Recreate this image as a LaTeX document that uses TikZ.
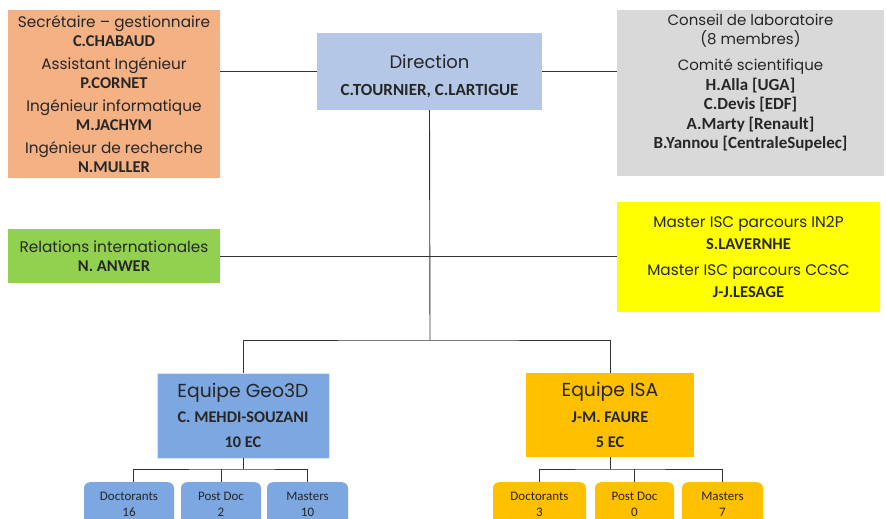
\documentclass[tikz,border=0pt]{standalone}
\usepackage{fontspec}
\setmainfont{Carlito}
\newfontfamily\rgf{Poppins}
\usetikzlibrary{calc}
\definecolor{cSec}{HTML}{F4B183}
\definecolor{cDir}{HTML}{B4C7E7}
\definecolor{cCons}{HTML}{D9D9D9}
\definecolor{cRel}{HTML}{92D050}
\definecolor{cMas}{HTML}{FFFF00}
\definecolor{cGeo}{HTML}{7DA7E0}
\definecolor{cIsa}{HTML}{FFC000}
\definecolor{cTxt}{HTML}{262626}
\newcommand\rg[2]{{\rgf\fontsize{#1}{#1}\selectfont #2}}
\newcommand\bd[2]{{\bfseries\fontsize{#1}{#1}\selectfont #2}}
\begin{document}
\begin{tikzpicture}[x=1pt,y=-1pt,
  boxstyle/.style={rectangle, inner sep=0pt, align=center, text=cTxt},
  smallbox/.style={rectangle, rounded corners=6pt, inner sep=0pt, anchor=north, minimum height=60pt},
  smalltext/.style={align=center, inner sep=0pt, text=cTxt, font=\fontsize{13}{16}\selectfont},
  conn/.style={draw=black!80, line width=0.9pt}]
\useasboundingbox (0,0) rectangle (886,519);
\clip (0,0) rectangle (886,519);

% top row
\node[boxstyle, fill=cSec, minimum width=212pt, minimum height=168pt,
      font=\fontsize{13}{19}\selectfont] (sec) at (114,94)
  {\rg{15.3}{Secrétaire – gestionnaire}\\ \bd{16.5}{C.CHABAUD}\\[4pt]
   \rg{15.3}{Assistant Ingénieur}\\ \bd{16.5}{P.CORNET}\\[4pt]
   \rg{15.3}{Ingénieur informatique}\\ \bd{16.5}{M.JACHYM}\\[4pt]
   \rg{15.3}{Ingénieur de recherche}\\ \bd{16.5}{N.MULLER}};

\node[boxstyle, fill=cDir, minimum width=225pt, minimum height=77pt] (dir) at (429.5,71.5) {};
\node[boxstyle, font=\fontsize{14}{27}\selectfont] (dirt) at (429.5,76)
  {\rg{18}{Direction}\\ \bd{17}{C.TOURNIER, C.LARTIGUE}};

\node[boxstyle, fill=cCons, minimum width=267pt, minimum height=166pt,
      font=\fontsize{13}{19.5}\selectfont] (cons) at (750.5,93)
  {\rg{15}{Conseil de laboratoire}\\ \rg{15}{(8 membres)}\\[6.5pt]
   \rg{15}{Comité scientifique}\\ \bd{17}{H.Alla [UGA]}\\ \bd{17}{C.Devis [EDF]}\\
   \bd{17}{A.Marty [Renault]}\\ \bd{17}{B.Yannou [CentraleSupelec]}\\[4pt]\mbox{}};

% middle row
\node[boxstyle, fill=cRel, minimum width=212pt, minimum height=54pt,
      font=\fontsize{13}{19}\selectfont] (rel) at (114,256)
  {\rg{15.3}{Relations internationales}\\ \bd{16.5}{N. ANWER}};

\node[boxstyle, fill=cMas, minimum width=263pt, minimum height=110pt,
      font=\fontsize{13}{21.5}\selectfont] (mas) at (748.5,257)
  {\rg{15.3}{Master ISC parcours IN2P}\\ \bd{16.5}{S.LAVERNHE}\\[5pt]
   \rg{15.3}{Master ISC parcours CCSC}\\ \bd{16.5}{J-J.LESAGE}};

% teams
\node[boxstyle, fill=cGeo, draw=white!70!cGeo, line width=0.8pt, minimum width=172pt, minimum height=85pt,
      font=\fontsize{14}{25}\selectfont] (geo) at (243,415.5)
  {\rg{18.8}{Equipe Geo3D}\\ \bd{16.3}{C. MEHDI-SOUZANI}\\ \bd{16.3}{10 EC}};

\node[boxstyle, fill=cIsa, minimum width=168pt, minimum height=84pt,
      font=\fontsize{14}{25.5}\selectfont] (isa) at (610,415)
  {\rg{18.8}{Equipe ISA}\\ \bd{16.3}{J-M. FAURE}\\ \bd{16.3}{5 EC}};

% small boxes Geo3D
\node[smallbox, fill=cGeo, minimum width=90pt] (gd) at (129,482) {};
\node[smallbox, fill=cGeo, minimum width=80pt] (gp) at (221,482) {};
\node[smallbox, fill=cGeo, minimum width=81pt] (gm) at (307.5,482) {};
\node[smalltext] (gdt) at (129,504) {Doctorants\\16};
\node[smalltext] (gpt) at (221,504) {Post Doc\\2};
\node[smalltext] (gmt) at (307.5,504) {Masters\\10};

% small boxes ISA
\node[smallbox, fill=cIsa, minimum width=93pt] (id) at (539.5,482) {};
\node[smallbox, fill=cIsa, minimum width=79pt] (ip) at (634.5,482) {};
\node[smallbox, fill=cIsa, minimum width=81pt] (im) at (722.5,482) {};
\node[smalltext] (idt) at (539.5,504) {Doctorants\\3};
\node[smalltext] (ipt) at (634.5,504) {Post Doc\\0};
\node[smalltext] (imt) at (722.5,504) {Masters\\7};

% connectors
\coordinate (j) at (430,340);
\coordinate (gj) at (243,469);
\coordinate (ij) at (610,469);
\draw[conn] (dir.west) -- (dir.west -| sec.east);
\draw[conn] (dir.east) -- (dir.east -| cons.west);
\draw[conn] (dir.south) -- (j);
\draw[conn] (rel.east) -- (rel.east -| mas.west);
\draw[conn] (geo.north) |- (j) -| (isa.north);
\draw[conn] (geo.south) -- (gj);
\draw[conn] ([xshift=4pt]gd.north) |- (gj) -| (gm.north);
\draw[conn] (gp.north) -- (gp.north |- gj);
\draw[conn] (isa.south) -- (ij);
\draw[conn] (id.north) |- (ij) -| (im.north);
\draw[conn] (ip.north) -- (ip.north |- ij);
\end{tikzpicture}
\end{document}
